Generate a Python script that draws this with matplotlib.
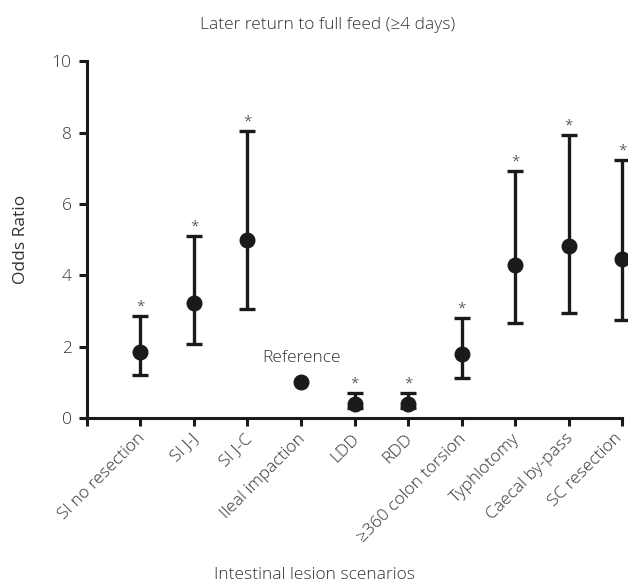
"""Odds ratios for later return to full feed, by intestinal lesion scenario."""

import matplotlib

matplotlib.use("Agg")
import matplotlib.pyplot as plt

categories = [
    "SI no resection", "SI J-J", "SI J-C", "Ileal impaction", "LDD", "RDD",
    "\u2265360 colon torsion", "Typhlotomy", "Caecal by-pass", "SC resection",
]
odds_ratio = [1.85, 3.23, 4.98, 1.0, 0.40, 0.40, 1.78, 4.28, 4.82, 4.45]
ci_low = [1.20, 2.06, 3.06, 1.0, 0.28, 0.28, 1.13, 2.66, 2.94, 2.74]
ci_high = [2.86, 5.09, 8.04, 1.0, 0.70, 0.70, 2.80, 6.91, 7.92, 7.22]
significant = [True, True, True, False, True, True, True, True, True, True]
reference_index = 3

TEXT = "#333333"
INK = "#1a1a1a"
FS = 12.5

plt.rcParams["font.family"] = ["Open Sans", "DejaVu Sans"]
plt.rcParams["font.weight"] = "light"

fig = plt.figure(figsize=(6.28, 5.85), dpi=100)
ax = fig.add_axes([0.1385, 0.2855, 0.852, 0.610])

positions = list(range(1, len(categories) + 1))
for i, (pos, est, lo, hi) in enumerate(zip(positions, odds_ratio, ci_low, ci_high)):
    if i == reference_index:
        ax.plot(pos, est, "o", color=INK, markersize=10.5, clip_on=False)
        ax.annotate("Reference", (pos, est), xytext=(0, 12), textcoords="offset points",
                    ha="center", va="bottom", fontsize=FS, color=TEXT)
        continue
    ax.errorbar(pos, est, yerr=[[est - lo], [hi - est]], fmt="o", color=INK,
                markersize=10.5, elinewidth=2.4, capsize=5.5, capthick=2.4, clip_on=False)
    if significant[i]:
        ax.annotate("*", (pos, hi), xytext=(0, 1), textcoords="offset points",
                    ha="center", va="bottom", fontsize=11, color=TEXT)

ax.set_xlim(0, len(categories))
ax.set_ylim(0, 10)
ax.set_xticks(range(0, len(categories) + 1))
ax.set_xticklabels([])
# rotated category labels; the last one sits against the right edge, so pull it in a bit more
for pos, name in zip(positions, categories):
    dx = -5.5 if pos == positions[-1] else -2.5
    ax.annotate(name, (pos, 0), xytext=(dx, -9), textcoords="offset points",
                rotation=45, rotation_mode="anchor", ha="right", va="top",
                fontsize=FS, color=TEXT, annotation_clip=False)
ax.set_yticks(range(0, 11, 2))
ax.tick_params(axis="y", labelsize=FS, labelcolor=TEXT, pad=5)
for spine in ("top", "right"):
    ax.spines[spine].set_visible(False)
for spine in ("left", "bottom"):
    ax.spines[spine].set_linewidth(2.2)
    ax.spines[spine].set_color(INK)
ax.tick_params(width=2.2, length=6, color=INK)

ax.set_ylabel("Odds Ratio", fontsize=FS, color=TEXT, labelpad=16)
fig.text(0.522, 0.957, "Later return to full feed (\u22654 days)", ha="center", va="center",
         fontsize=FS, color=TEXT)
fig.text(0.5, 0.017, "Intestinal lesion scenarios", ha="center", va="center",
         fontsize=FS, color=TEXT)

fig.savefig("out.png", dpi=100)
